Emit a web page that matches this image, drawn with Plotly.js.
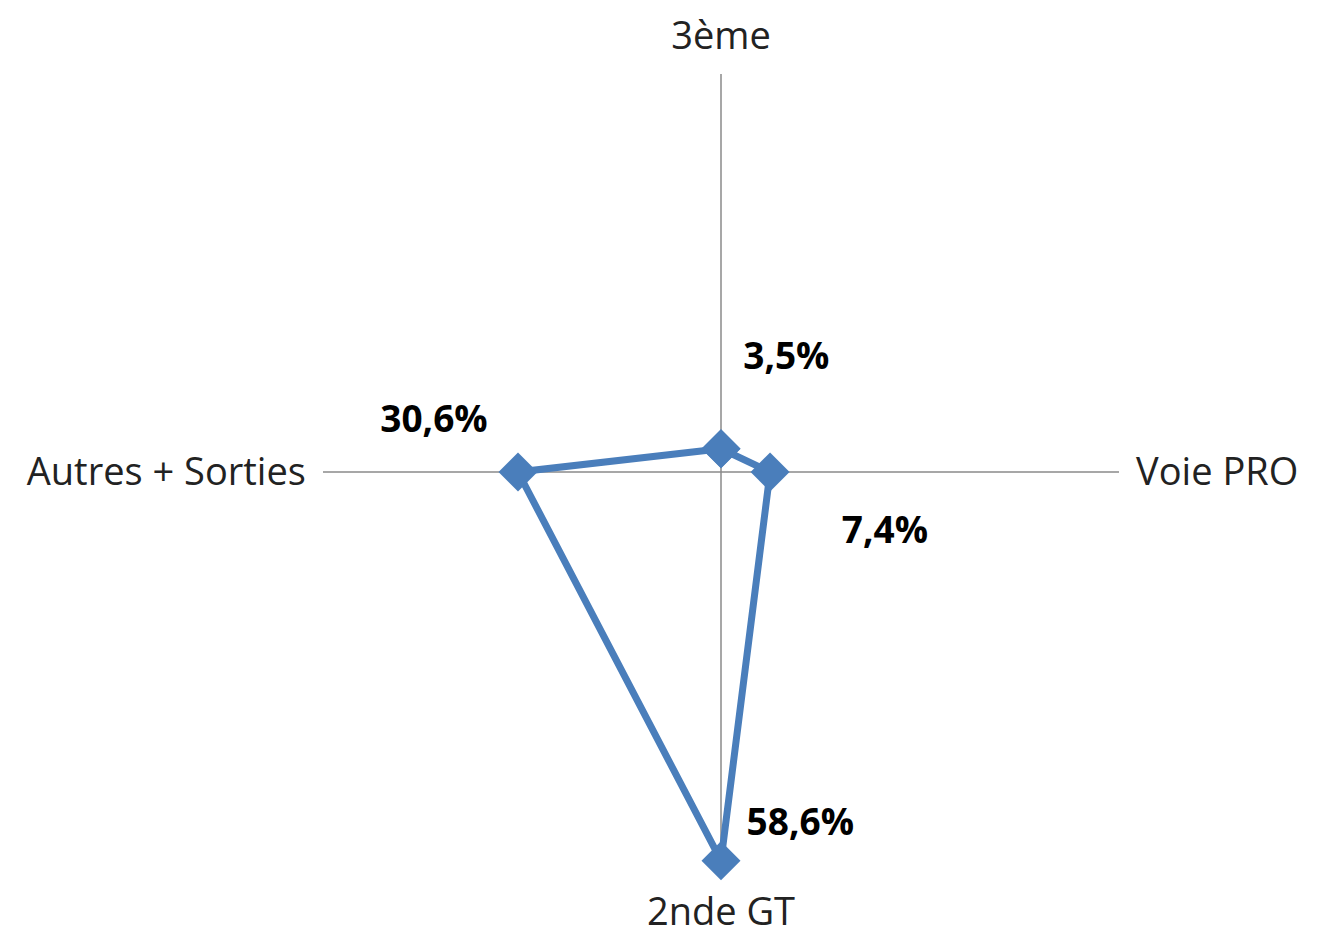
<!DOCTYPE html>
<html>
<head>
<meta charset="utf-8">
<script src="https://cdn.plot.ly/plotly-3.0.1.min.js"></script>
<style>html,body{margin:0;padding:0;background:#fff;}#chart{width:1317px;height:936px;}</style>
</head>
<body>
<div id="chart"></div>
<script>
const categories = ["3ème", "Voie PRO", "2nde GT", "Autres + Sorties"];
const values = [3.5, 7.4, 58.6, 30.6];
const labels = ["3,5%", "7,4%", "58,6%", "30,6%"];

// label styling (placement relative to each point)
const labelPositions = ["top right", "bottom right", "top right", "top left"];
const labelOffsetSizes = [34, 67, 24, 47];
const NB = "\u00a0";
const labelTexts = [labels[0] + "<br>" + NB, NB + NB + NB + labels[1], NB + labels[2], labels[3]];

const closedTheta = categories.concat([categories[0]]);
const closedR = values.concat([values[0]]);

const traces = [
  {
    type: "scatterpolar",
    r: closedR,
    theta: closedTheta,
    mode: "lines+markers",
    line: {color: "#4a7ebb", width: 7},
    marker: {symbol: "diamond", size: 30, color: "#4a7ebb"},
    hoverinfo: "skip",
    showlegend: false
  },
  {
    type: "scatterpolar",
    r: values,
    theta: categories,
    mode: "markers+text",
    text: labelTexts,
    textposition: labelPositions,
    marker: {size: labelOffsetSizes, color: "rgba(0,0,0,0)", line: {width: 0}},
    textfont: {family: "Open Sans, sans-serif", size: 37, color: "#000", weight: "bold"},
    hoverinfo: "skip",
    showlegend: false
  }
];

const layout = {
  width: 1317,
  height: 936,
  margin: {l: 323, r: 198, t: 74, b: 66},
  paper_bgcolor: "#fff",
  showlegend: false,
  polar: {
    bgcolor: "#fff",
    domain: {x: [0, 1], y: [0, 1]},
    radialaxis: {visible: false, range: [0, 60], showgrid: false},
    angularaxis: {
      rotation: 90,
      direction: "clockwise",
      showline: false,
      showgrid: true,
      gridcolor: "#8a8a8a",
      gridwidth: 1.5,
      ticks: "outside",
      ticklen: 9,
      tickcolor: "rgba(0,0,0,0)",
      tickfont: {family: "Open Sans, sans-serif", size: 38, color: "#222"}
    }
  }
};

Plotly.newPlot("chart", traces, layout, {displayModeBar: false, staticPlot: true});
</script>
</body>
</html>
